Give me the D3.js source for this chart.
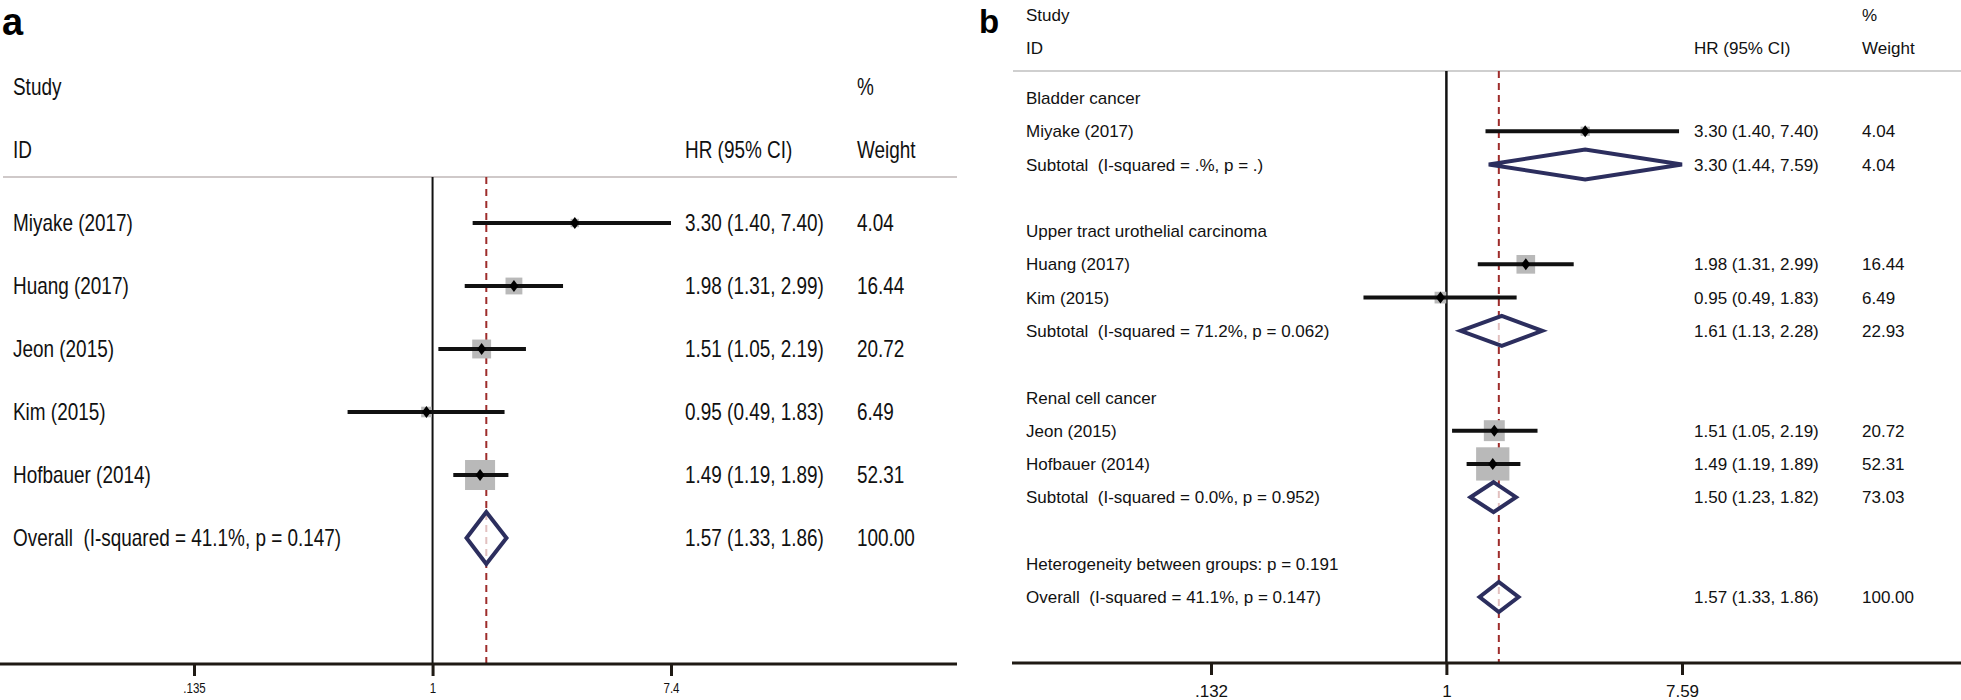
<!DOCTYPE html>
<html><head><meta charset="utf-8">
<script src="https://cdn.jsdelivr.net/npm/d3@7"></script>
<style>
html,body{margin:0;padding:0;background:#fff;}
svg text{white-space:pre;}
</style></head>
<body>
<svg id="chart" width="1961" height="700"></svg>
<script>
// ---------- Panel a data ----------
const studiesA = ["Miyake (2017)", "Huang (2017)", "Jeon (2015)", "Kim (2015)", "Hofbauer (2014)"];
const hrA     = [3.30, 1.98, 1.51, 0.95, 1.49];
const lowA    = [1.40, 1.31, 1.05, 0.49, 1.19];
const highA   = [7.40, 2.99, 2.19, 1.83, 1.89];
const weightA = [4.04, 16.44, 20.72, 6.49, 52.31];
const overallLabelA = "Overall  (I-squared = 41.1%, p = 0.147)";
const overallA = [1.57, 1.33, 1.86, 100.00];
const tickValuesA = [0.135, 1, 7.4];
const tickLabelsA = [".135", "1", "7.4"];

// ---------- Panel b data ----------
const labelsB = ["Bladder cancer", "Miyake (2017)", "Subtotal  (I-squared = .%, p = .)", "",
  "Upper tract urothelial carcinoma", "Huang (2017)", "Kim (2015)", "Subtotal  (I-squared = 71.2%, p = 0.062)", "",
  "Renal cell cancer", "Jeon (2015)", "Hofbauer (2014)", "Subtotal  (I-squared = 0.0%, p = 0.952)", "",
  "Heterogeneity between groups: p = 0.191", "Overall  (I-squared = 41.1%, p = 0.147)"];
const typesB = ["head", "study", "pool", "blank", "head", "study", "study", "pool", "blank",
  "head", "study", "study", "pool", "blank", "head", "pool"];
const hrB     = [null, 3.30, 3.30, null, null, 1.98, 0.95, 1.61, null, null, 1.51, 1.49, 1.50, null, null, 1.57];
const lowB    = [null, 1.40, 1.44, null, null, 1.31, 0.49, 1.13, null, null, 1.05, 1.19, 1.23, null, null, 1.33];
const highB   = [null, 7.40, 7.59, null, null, 2.99, 1.83, 2.28, null, null, 2.19, 1.89, 1.82, null, null, 1.86];
const weightB = [null, 4.04, 4.04, null, null, 16.44, 6.49, 22.93, null, null, 20.72, 52.31, 73.03, null, null, 100.00];
const tickValuesB = [0.132, 1, 7.59];
const tickLabelsB = [".132", "1", "7.59"];

const f2 = d3.format(".2f");
const ciText = (h, l, u) => `${f2(h)} (${f2(l)}, ${f2(u)})`;

const svg = d3.select("#chart");
const INK = "#111";
const AXIS = "#1f1a14";
const DASH = "#9e2c2b";
const NAVY = "#2c2e5e";
const SQ = "#b9b9b9";

// ---------- fonts ----------
const narrowFam = "'Liberation Sans Narrow','Arial Narrow','Liberation Sans',Arial,sans-serif";
const normFam = "'Liberation Sans',Arial,Helvetica,sans-serif";
// probe for condensed width (target ~120px for "Miyake (2017)" at 23px)
const probe = svg.append("text").attr("font-family", narrowFam).attr("font-size", 23).text("Miyake (2017)");
const pw = probe.node().getComputedTextLength();
probe.remove();
const sxA = Math.max(0.6, Math.min(1.1, 120 / pw));

function textA(g, x, y, s, size, anchor) {
  return g.append("text")
    .attr("transform", `translate(${x},${y}) scale(${sxA},1)`)
    .attr("font-family", narrowFam).attr("font-size", size)
    .attr("fill", INK).attr("text-anchor", anchor || "start")
    .attr("dy", "0.36em").text(s);
}
function textB(g, x, y, s, size, anchor) {
  return g.append("text").attr("x", x).attr("y", y)
    .attr("font-family", normFam).attr("font-size", size)
    .attr("fill", INK).attr("text-anchor", anchor || "start")
    .attr("dy", "0.36em").text(s);
}
const diamondPath = (x0, xm, x1, y, h) => `M${x0},${y}L${xm},${y - h}L${x1},${y}L${xm},${y + h}Z`;

// =================== PANEL A ===================
{
  const g = svg.append("g");
  const x = d3.scaleLog().domain([tickValuesA[0], tickValuesA[2]]).range([194, 671]);
  const y = d3.scaleLinear().domain([0, 5]).range([223, 538]);
  const lineY = 177, axisY = 664;
  const colName = 13, colHR = 685, colW = 857;
  const side = w => 4.15 * Math.sqrt(w);

  g.append("text").attr("x", 2).attr("y", 35).attr("font-family", normFam)
    .attr("font-weight", "bold").attr("font-size", 38).attr("fill", "#000").text("a");

  textA(g, colName, 87, "Study", 23);
  textA(g, colW, 87, "%", 23);
  textA(g, colName, 150, "ID", 23);
  textA(g, colHR, 150, "HR (95% CI)", 23);
  textA(g, colW, 150, "Weight", 23);

  g.append("line").attr("x1", 3).attr("x2", 957).attr("y1", lineY).attr("y2", lineY)
    .attr("stroke", "#cfc9c9").attr("stroke-width", 2);

  // null line and overall dashed line
  g.append("line").attr("x1", x(1)).attr("x2", x(1)).attr("y1", lineY).attr("y2", axisY)
    .attr("stroke", INK).attr("stroke-width", 2);
  g.append("line").attr("x1", x(overallA[0])).attr("x2", x(overallA[0])).attr("y1", lineY).attr("y2", axisY)
    .attr("stroke", DASH).attr("stroke-width", 2).attr("stroke-dasharray", "7,5");

  studiesA.forEach((s, i) => {
    const cy = y(i), cx = x(hrA[i]), sd = side(weightA[i]);
    g.append("rect").attr("x", cx - sd / 2).attr("y", cy - sd / 2).attr("width", sd).attr("height", sd).attr("fill", SQ);
    g.append("line").attr("x1", x(lowA[i])).attr("x2", x(highA[i])).attr("y1", cy).attr("y2", cy)
      .attr("stroke", INK).attr("stroke-width", 4);
    g.append("path").attr("d", diamondPath(cx - 4.5, cx, cx + 4.5, cy, 6)).attr("fill", "#000");
    textA(g, colName, cy, s, 23);
    textA(g, colHR, cy, ciText(hrA[i], lowA[i], highA[i]), 23);
    textA(g, colW, cy, f2(weightA[i]), 23);
  });
  const oy = y(5);
  g.append("path").attr("d", diamondPath(x(overallA[1]), x(overallA[0]), x(overallA[2]), oy, 26))
    .attr("fill", "#fff").attr("fill-opacity", 0.7).attr("stroke", NAVY).attr("stroke-width", 4)
    .attr("stroke-linejoin", "miter");
  textA(g, colName, oy, overallLabelA, 23);
  textA(g, colHR, oy, ciText(overallA[0], overallA[1], overallA[2]), 23);
  textA(g, colW, oy, f2(overallA[3]), 23);

  // axis
  g.append("line").attr("x1", 0).attr("x2", 957).attr("y1", axisY).attr("y2", axisY)
    .attr("stroke", AXIS).attr("stroke-width", 3);
  const ax = g.append("g").attr("transform", `translate(0,${axisY})`)
    .call(d3.axisBottom(x).tickValues(tickValuesA).tickFormat((d, i) => tickLabelsA[i])
      .tickSize(12).tickSizeOuter(0).tickPadding(7));
  ax.select(".domain").remove();
  ax.selectAll(".tick line").attr("stroke", AXIS).attr("stroke-width", 3);
  ax.selectAll(".tick text").attr("font-family", narrowFam).attr("font-size", 14).attr("fill", INK)
    .attr("transform", `scale(${sxA},1)`);
}

// =================== PANEL B ===================
{
  const g = svg.append("g");
  const x = d3.scaleLog().domain([tickValuesB[0], tickValuesB[2]]).range([1211, 1682]);
  const y = d3.scaleLinear().domain([0, labelsB.length - 1]).range([98, 597]);
  const lineY = 71, axisY = 663;
  const colName = 1026, colHR = 1694, colW = 1862;
  const side = w => 4.6 * Math.sqrt(w);
  const pooledOverall = hrB[hrB.length - 1];

  g.append("text").attr("x", 979).attr("y", 33).attr("font-family", normFam)
    .attr("font-weight", "bold").attr("font-size", 33).attr("fill", "#000").text("b");

  textB(g, colName, 15, "Study", 17);
  textB(g, colW, 15, "%", 17);
  textB(g, colName, 48, "ID", 17);
  textB(g, colHR, 48, "HR (95% CI)", 17);
  textB(g, colW, 48, "Weight", 17);

  g.append("line").attr("x1", 1013).attr("x2", 1961).attr("y1", lineY).attr("y2", lineY)
    .attr("stroke", "#cfcfcf").attr("stroke-width", 2);

  g.append("line").attr("x1", x(1)).attr("x2", x(1)).attr("y1", lineY).attr("y2", axisY)
    .attr("stroke", INK).attr("stroke-width", 2.5);
  g.append("line").attr("x1", x(pooledOverall)).attr("x2", x(pooledOverall)).attr("y1", lineY).attr("y2", axisY)
    .attr("stroke", DASH).attr("stroke-width", 2).attr("stroke-dasharray", "7,5");

  labelsB.forEach((s, i) => {
    const cy = y(i), t = typesB[i];
    if (s) textB(g, colName, cy, s, 17);
    if (t === "study") {
      const cx = x(hrB[i]), sd = side(weightB[i]);
      g.append("rect").attr("x", cx - sd / 2).attr("y", cy - sd / 2).attr("width", sd).attr("height", sd).attr("fill", SQ);
      g.append("line").attr("x1", x(lowB[i])).attr("x2", x(highB[i])).attr("y1", cy).attr("y2", cy)
        .attr("stroke", INK).attr("stroke-width", 4);
      g.append("path").attr("d", diamondPath(cx - 4.5, cx, cx + 4.5, cy, 6)).attr("fill", "#000");
    } else if (t === "pool") {
      g.append("path").attr("d", diamondPath(x(lowB[i]), x(hrB[i]), x(highB[i]), cy, 15))
        .attr("fill", "#fff").attr("fill-opacity", 0.7).attr("stroke", NAVY).attr("stroke-width", 4);
    }
    if (hrB[i] != null) {
      textB(g, colHR, cy, ciText(hrB[i], lowB[i], highB[i]), 17);
      textB(g, colW, cy, f2(weightB[i]), 17);
    }
  });

  g.append("line").attr("x1", 1012).attr("x2", 1961).attr("y1", axisY).attr("y2", axisY)
    .attr("stroke", AXIS).attr("stroke-width", 3);
  const ax = g.append("g").attr("transform", `translate(0,${axisY})`)
    .call(d3.axisBottom(x).tickValues(tickValuesB).tickFormat((d, i) => tickLabelsB[i])
      .tickSize(12).tickSizeOuter(0).tickPadding(10));
  ax.select(".domain").remove();
  ax.selectAll(".tick line").attr("stroke", AXIS).attr("stroke-width", 3);
  ax.selectAll(".tick text").attr("font-family", normFam).attr("font-size", 17).attr("fill", INK);
}
</script>
</body></html>
